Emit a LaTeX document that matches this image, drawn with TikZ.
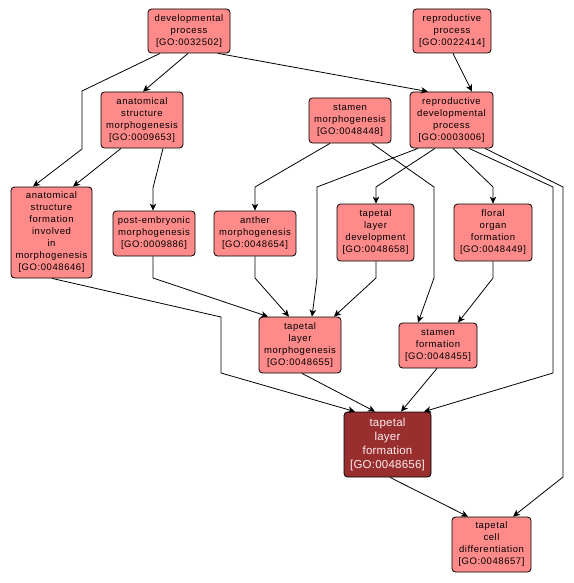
\documentclass[tikz,border=0pt]{standalone}
\usepackage{fontspec}
\usetikzlibrary{arrows.meta}
\newfontfamily\labfont[LetterSpace=6]{Liberation Sans}
\newfontfamily\bigfont[LetterSpace=2]{Liberation Sans}
\definecolor{nodefill}{RGB}{255,138,138}
\definecolor{darkfill}{RGB}{152,46,46}
\definecolor{darktext}{RGB}{255,236,236}
\tikzset{
  goterm/.style={draw=black, line width=0.8pt, fill=nodefill, rounded corners=3.5pt,
    align=center, inner sep=0pt, font=\labfont\fontsize{9.5}{12}\selectfont},
  focus/.style={goterm, fill=darkfill, text=darktext, font=\bigfont\fontsize{11.5}{14.3}\selectfont},
  edge/.style={draw=black, line width=0.8pt, -{Stealth[length=7pt,width=6.5pt,inset=2pt]}}
}
\begin{document}
\begin{tikzpicture}[x=1pt,y=-1pt]
\useasboundingbox[fill=white] (0,0) rectangle (573,583);
% nodes
\node[goterm, minimum width=82, minimum height=44] (dev) at (189,31) {developmental\\process\\{[GO:0032502]}};
\node[goterm, minimum width=78, minimum height=44] (repro) at (452,31) {reproductive\\process\\{[GO:0022414]}};
\node[goterm, minimum width=82, minimum height=56] (asm) at (142,120) {anatomical\\structure\\morphogenesis\\{[GO:0009653]}};
\node[goterm, minimum width=82, minimum height=45] (sm) at (350,120.5) {stamen\\morphogenesis\\{[GO:0048448]}};
\node[goterm, minimum width=83, minimum height=56] (rdp) at (451.5,120) {reproductive\\developmental\\process\\{[GO:0003006]}};
\node[goterm, minimum width=81, minimum height=91] (asf) at (51.5,232.5) {anatomical\\structure\\formation\\involved\\in\\morphogenesis\\{[GO:0048646]}};
\node[goterm, minimum width=82, minimum height=45] (post) at (154,233.5) {post-embryonic\\morphogenesis\\{[GO:0009886]}};
\node[goterm, minimum width=82, minimum height=45] (anther) at (255,233.5) {anther\\morphogenesis\\{[GO:0048654]}};
\node[goterm, minimum width=77, minimum height=57] (tld) at (375.5,232.5) {tapetal\\layer\\development\\{[GO:0048658]}};
\node[goterm, minimum width=78, minimum height=57] (floral) at (493,232.5) {floral\\organ\\formation\\{[GO:0048449]}};
\node[goterm, minimum width=82, minimum height=56] (tlm) at (300,345) {tapetal\\layer\\morphogenesis\\{[GO:0048655]}};
\node[goterm, minimum width=78, minimum height=45] (sf) at (438,345.5) {stamen\\formation\\{[GO:0048455]}};
\node[focus, minimum width=87, minimum height=65] (tlf) at (387.5,444.5) {tapetal\\layer\\formation\\{[GO:0048656]}};
\node[goterm, minimum width=79, minimum height=55] (tcd) at (491.5,544.5) {tapetal\\cell\\differentiation\\{[GO:0048657]}};
% edges
\draw[edge] (dev.south -| 188,0) -- (asm.north -| 143,0);
\draw[edge] (dev.south -| 160,0) -- (82,91) -- (82,149) -- (asf.north -| 33,0);
\draw[edge] (dev.south -| 218,0) -- (rdp.north -| 428,0);
\draw[edge] (repro.south -| 453,0) -- (rdp.north -| 472,0);
\draw[edge] (asm.south -| 121,0) -- (asf.north -| 73,0);
\draw[edge] (asm.south -| 163,0) -- (153,188) -- (post.north -| 153,0);
\draw[edge] (sm.south -| 330,0) -- (255,187) -- (anther.north -| 255,0);
\draw[edge] (sm.south -| 372,0) -- (434,187) -- (434,278) -- (sf.north -| 418,0);
\draw[edge] (rdp.south -| 418,0) -- (317,187) -- (317,278) -- (tlm.north -| 312,0);
\draw[edge] (rdp.south -| 435,0) -- (376,187) -- (tld.north -| 376,0);
\draw[edge] (rdp.south -| 453,0) -- (493,187) -- (floral.north -| 493,0);
\draw[edge] (rdp.south -| 469,0) -- (553,187) -- (553,373) -- (tlf.north -| 424,0);
\draw[edge] (rdp.south -| 485,0) -- (563,187) -- (563,477) -- (tcd.north -| 513,0);
\draw[edge] (asf.south -| 52,0) -- (221,317) -- (221,373) -- (tlf.north -| 355,0);
\draw[edge] (post.south -| 153,0) -- (153,278) -- (tlm.north -| 268,0);
\draw[edge] (anther.south -| 255,0) -- (255,278) -- (tlm.north -| 289,0);
\draw[edge] (tld.south -| 376,0) -- (376,278) -- (tlm.north -| 334,0);
\draw[edge] (floral.south -| 493,0) -- (493,278) -- (sf.north -| 458,0);
\draw[edge] (tlm.south -| 302,0) -- (tlf.north -| 375,0);
\draw[edge] (sf.south -| 437,0) -- (tlf.north -| 401,0);
\draw[edge] (tlf.south -| 390,0) -- (tcd.north -| 468,0);
\end{tikzpicture}
\end{document}
